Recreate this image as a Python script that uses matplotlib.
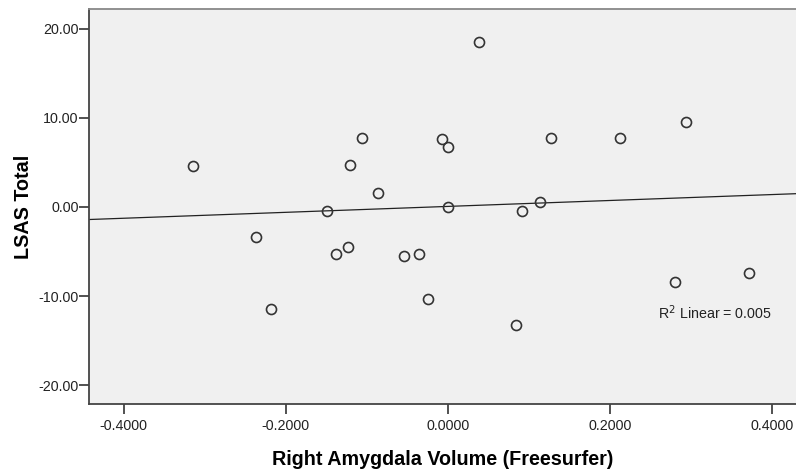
import numpy as np
import matplotlib
matplotlib.use("Agg")
import matplotlib.pyplot as plt

plt.rcParams['font.family'] = ['Liberation Sans', 'DejaVu Sans']

# right amygdala volume (residual) vs LSAS total
amyg_vol = [-0.314, -0.237, -0.218, -0.149, -0.138, -0.123, -0.121, -0.106,
            -0.086, -0.054, -0.036, -0.024, -0.007, 0.000, 0.000, 0.039,
            0.084, 0.092, 0.114, 0.127, 0.213, 0.281, 0.294, 0.372]
lsas_total = [4.56, -3.40, -11.47, -0.45, -5.27, -4.45, 4.71, 7.74,
              1.53, -5.46, -5.27, -10.28, 7.59, 6.73, 0.04, 18.53,
              -13.27, -0.45, 0.56, 7.74, 7.74, -8.44, 9.53, -7.44]
x_ticks = [-0.4, -0.2, 0.0, 0.2, 0.4]
y_ticks = [-20, -10, 0, 10, 20]
r2_label = "R$^2$ Linear = 0.005"

x = np.array(amyg_vol)
y = np.array(lsas_total)

fig = plt.figure(figsize=(7.96, 4.71), dpi=100)
ax = fig.add_axes([0.1118, 0.1423, 0.8882, 0.8387])
ax.set_facecolor("#f0f0f0")

xlim = (-0.443, 0.430)
ax.set_xlim(*xlim)
ax.set_ylim(-22.1, 22.2)

slope, icpt = np.polyfit(x, y, 1)
xl = np.array(xlim)
ax.plot(xl, icpt + slope * xl, color="#222222", lw=0.9, zorder=2)

ax.plot(x, y, linestyle="none", marker="o", ms=7.2, mfc="none",
        mec="#333333", mew=1.2, zorder=3)

ax.text(0.259, -11.9, r2_label, fontsize=10.3, va="center", ha="left", color="#222222")

ax.set_xticks(x_ticks)
ax.set_xticklabels([f"{v:.4f}" for v in x_ticks])
ax.set_yticks(y_ticks)
ax.set_yticklabels([f"{v:.2f}" for v in y_ticks])
ax.tick_params(direction="out", length=7, width=1.2, color="#333333",
               labelsize=10.3, labelcolor="#222222")
ax.tick_params(axis="x", pad=4)
ax.tick_params(axis="y", pad=0.5)

for s in ("left", "bottom"):
    ax.spines[s].set_color("#444444")
    ax.spines[s].set_linewidth(1.3)
ax.spines["top"].set_color("#888888")
ax.spines["top"].set_linewidth(1.3)
ax.spines["right"].set_visible(False)

ax.set_xlabel("Right Amygdala Volume (Freesurfer)", fontsize=14.2,
              fontweight="bold", labelpad=12)
ax.set_ylabel("LSAS Total", fontsize=14.2, fontweight="bold", labelpad=4)

fig.savefig("out.png", dpi=100)
